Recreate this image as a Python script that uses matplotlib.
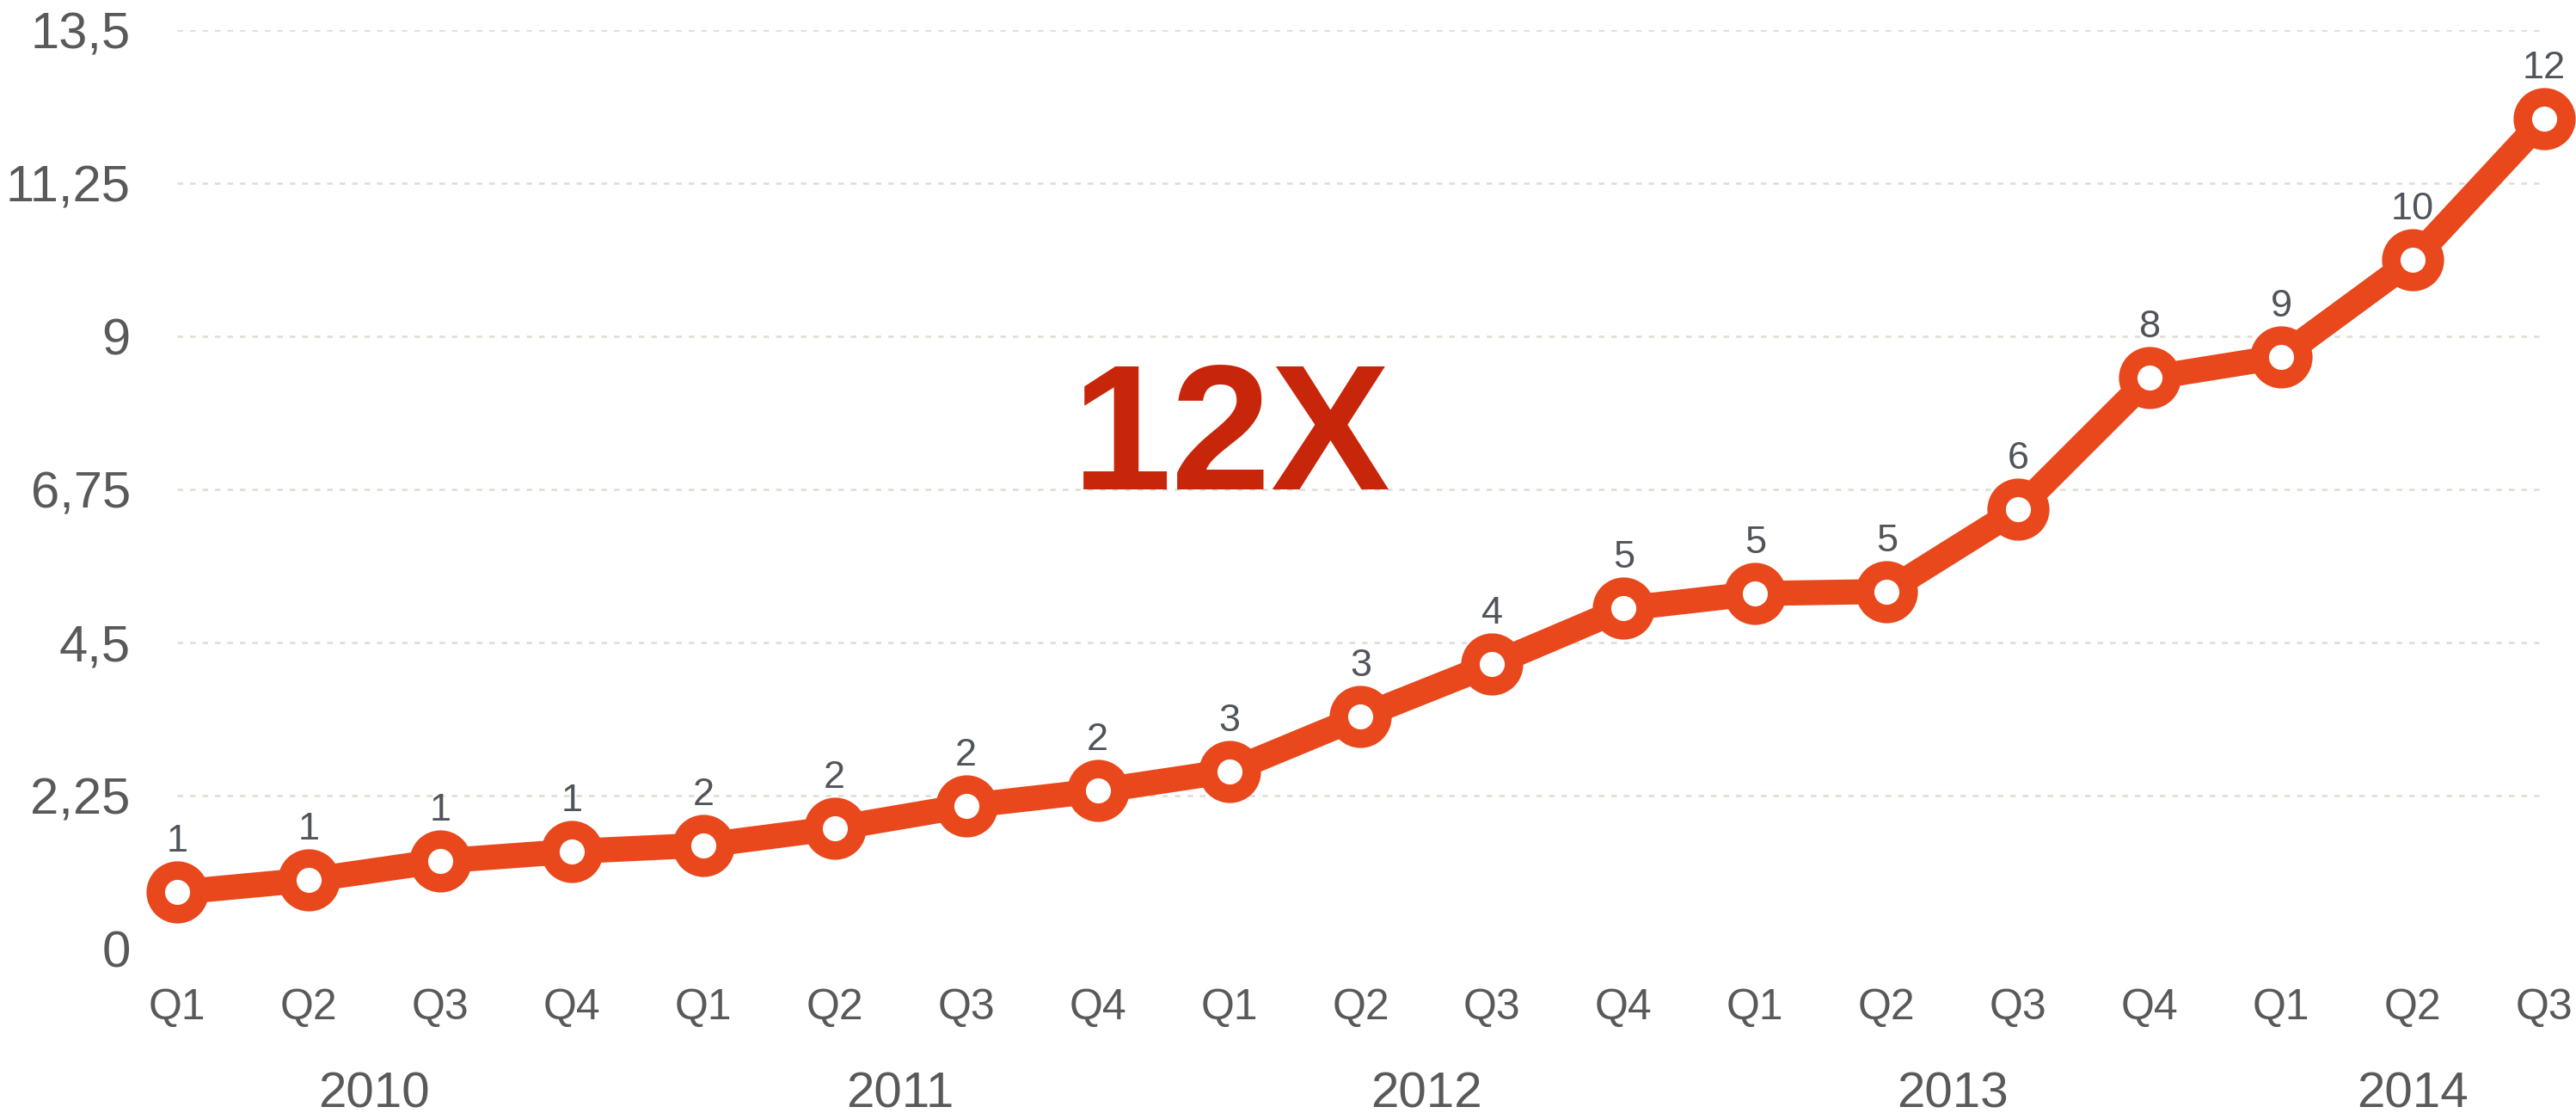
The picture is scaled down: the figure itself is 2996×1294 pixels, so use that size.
import matplotlib
matplotlib.use("Agg")
import matplotlib.pyplot as plt
from matplotlib.ticker import FixedLocator

plt.rcParams['font.family'] = ['Liberation Sans', 'DejaVu Sans']

quarters = ["Q1", "Q2", "Q3", "Q4",
            "Q1", "Q2", "Q3", "Q4",
            "Q1", "Q2", "Q3", "Q4",
            "Q1", "Q2", "Q3", "Q4",
            "Q1", "Q2", "Q3"]
years = ["2010", "2011", "2012", "2013", "2014"]
year_quarter_counts = [4, 4, 4, 4, 3]
values = [0.83, 1.01, 1.29, 1.43,
          1.52, 1.77, 2.10, 2.32,
          2.61, 3.41, 4.18, 5.00,
          5.22, 5.25, 6.46, 8.39,
          8.70, 10.12, 12.20]
y_ticks = [0, 2.25, 4.5, 6.75, 9, 11.25, 13.5]
y_tick_labels = ["0", "2,25", "4,5", "6,75", "9", "11,25", "13,5"]
headline = "12X"

ORANGE = "#E8481C"
DARKRED = "#C8260A"
TICK_GREY = "#595959"
LABEL_GREY = "#50555B"
GRID = "#DDDDD5"

W, H = 2996, 1294
fig = plt.figure(figsize=(W / 100, H / 100), dpi=100)
left_px, right_px = 206, 2959
top_px, bottom_px = 35, 1103
ax = fig.add_axes([left_px / W, (H - bottom_px) / H,
                   (right_px - left_px) / W, (bottom_px - top_px) / H])

x = list(range(len(values)))
ax.set_xlim(0, len(values) - 1)
ax.set_ylim(0, 13.5)

# grid lines (not at 0)
for yv in y_ticks[1:]:
    ax.axhline(yv, color=GRID, lw=1.8, ls=(0, (2.6, 3.2)), zorder=1)

ax.plot(x, values, color=ORANGE, lw=21, solid_capstyle='butt',
        solid_joinstyle='round', zorder=3, clip_on=False)
ax.plot(x, values, ls='none', marker='o', ms=36.5, mew=15.5,
        mec=ORANGE, mfc='white', zorder=4, clip_on=False)

for xi, v in zip(x, values):
    ax.annotate(f"{round(v):d}", xy=(xi, v), xytext=(0, 47),
                textcoords='offset pixels', ha='center', va='baseline',
                fontsize=32.5, color=LABEL_GREY, zorder=5, annotation_clip=False)

# y axis
ax.yaxis.set_major_locator(FixedLocator(y_ticks))
ax.set_yticklabels(y_tick_labels)
ax.tick_params(axis='y', length=0, pad=39, labelsize=43, labelcolor=TICK_GREY)

# x axis quarters
ax.set_xticks(x)
ax.set_xticklabels(quarters)
ax.tick_params(axis='x', length=0, pad=33, labelsize=36, labelcolor=TICK_GREY)

# year labels
start = 0
for yr, n in zip(years, year_quarter_counts):
    center = start + (n - 1) / 2
    ax.annotate(yr, xy=(center, 0), xytext=(0, -184),
                textcoords='offset pixels', ha='center', va='baseline',
                fontsize=42, color=TICK_GREY, annotation_clip=False)
    start += n

ax.text(8.02, 6.75, headline, ha='center', va='baseline', fontsize=150,
        fontweight='bold', color=DARKRED, zorder=6)

for s in ax.spines.values():
    s.set_visible(False)

fig.savefig("out.png", dpi=100, facecolor='white')
